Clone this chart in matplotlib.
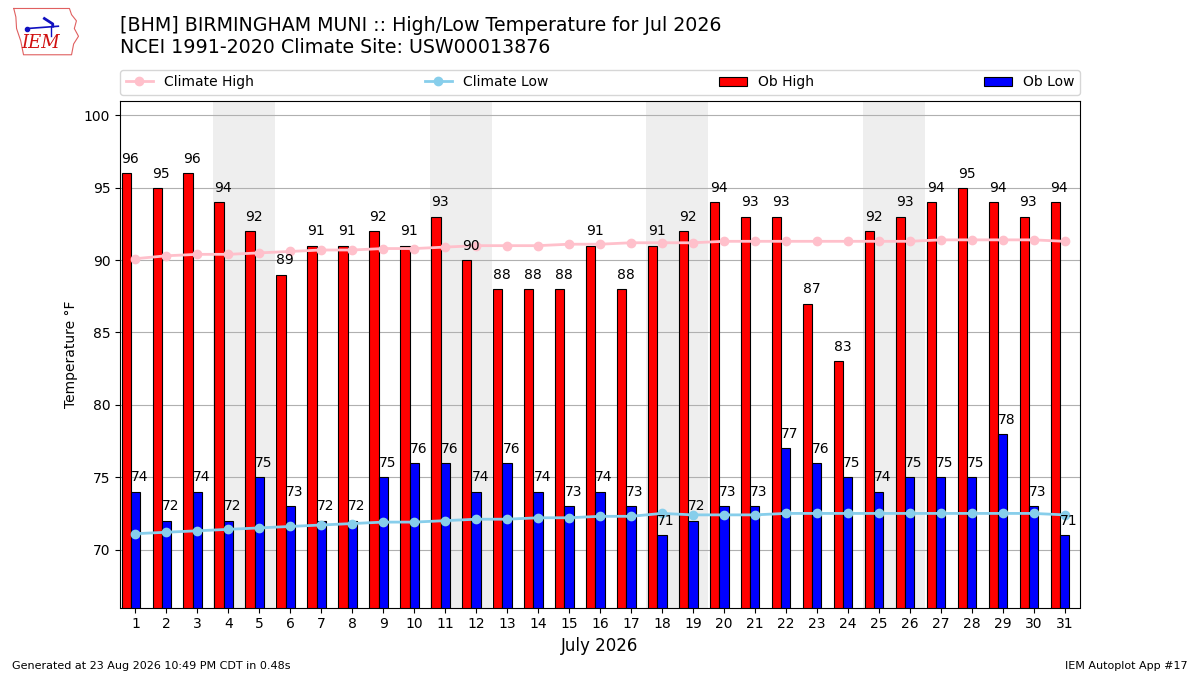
import numpy as np
import matplotlib
matplotlib.use("Agg")
import matplotlib.pyplot as plt

# Observed daily values, July 2026 (BHM)
days = np.arange(1, 32)
ob_high = [96, 95, 96, 94, 92, 89, 91, 91, 92, 91, 93, 90, 88, 88, 88, 91,
           88, 91, 92, 94, 93, 93, 87, 83, 92, 93, 94, 95, 94, 93, 94]
ob_low = [74, 72, 74, 72, 75, 73, 72, 72, 75, 76, 76, 74, 76, 74, 73, 74,
          73, 71, 72, 73, 73, 77, 76, 75, 74, 75, 75, 75, 78, 73, 71]

# NCEI 1991-2020 daily normals
clim_high = [90.1, 90.3, 90.4, 90.4, 90.5, 90.6, 90.7, 90.7, 90.8, 90.8,
             90.9, 91.0, 91.0, 91.0, 91.1, 91.1, 91.2, 91.2, 91.2, 91.3,
             91.3, 91.3, 91.3, 91.3, 91.3, 91.3, 91.4, 91.4, 91.4, 91.4, 91.3]
clim_low = [71.1, 71.2, 71.3, 71.4, 71.5, 71.6, 71.7, 71.8, 71.9, 71.9,
            72.0, 72.1, 72.1, 72.2, 72.2, 72.3, 72.3, 72.5, 72.4, 72.4,
            72.4, 72.5, 72.5, 72.5, 72.5, 72.5, 72.5, 72.5, 72.5, 72.5, 72.4]

weekends = [4, 11, 18, 25]  # Saturdays

fig = plt.figure(figsize=(12, 6.75), dpi=100)
ax = fig.add_axes([0.1, 0.1, 0.8, 0.7505])

for sat in weekends:
    ax.axvspan(sat - 0.5, sat + 1.5, color="#EEEEEE", zorder=0, lw=0)

ax.grid(axis="y", color="#b0b0b0", lw=0.8, zorder=1)
ax.set_axisbelow(True)

ax.plot(days, clim_high, "-o", color="pink", lw=2, ms=6,
        label="Climate High", zorder=3)
ax.plot(days, clim_low, "-o", color="skyblue", lw=2, ms=6,
        label="Climate Low", zorder=3)

ax.bar(days - 0.3, ob_high, width=0.3, color="r", edgecolor="k", lw=0.8,
       label="Ob High", zorder=2)
ax.bar(days, ob_low, width=0.3, color="b", edgecolor="k", lw=0.8,
       label="Ob Low", zorder=2)

for d, h, l in zip(days, ob_high, ob_low):
    ax.text(d - 0.45, h + 0.5, f"{h}", ha="left", va="bottom",
            fontsize=10, zorder=4)
    ax.text(d - 0.15, l + 0.5, f"{l}", ha="left", va="bottom",
            fontsize=10, zorder=4)

ax.set_xlim(0.5, 31.5)
ax.set_ylim(66, 101)
ax.set_xticks(days)
ax.set_yticks(range(70, 101, 5))
ax.tick_params(labelsize=10)
ax.set_xlabel("July 2026", fontsize=12)
ax.set_ylabel("Temperature \u00b0F", fontsize=10)

ax.legend(loc="lower left", bbox_to_anchor=(0, 1.012, 1, 0.051),
          mode="expand", ncol=4, borderaxespad=0, fontsize=10)

fig.text(0.1, 0.954, "[BHM] BIRMINGHAM MUNI :: High/Low Temperature for Jul 2026",
         fontsize=13.7, va="baseline")
fig.text(0.1, 0.921, "NCEI 1991-2020 Climate Site: USW00013876",
         fontsize=13.7, va="baseline")
fig.text(0.01, 0.009, "Generated at 23 Aug 2026 10:49 PM CDT in 0.48s", fontsize=8)
fig.text(0.99, 0.009, "IEM Autoplot App #17", fontsize=8, ha="right")

# rough IEM logo
lax = fig.add_axes([0.008, 0.912, 0.058, 0.08])
lax.set_xlim(0, 10)
lax.set_ylim(0, 7)
lax.axis("off")
outline_x = [0.6, 8.6, 8.9, 9.6, 9.3, 9.9, 9.2, 8.9, 2.0, 1.6, 1.0, 0.9, 0.6]
outline_y = [6.6, 6.6, 5.8, 5.0, 4.0, 3.0, 2.0, 0.6, 0.6, 2.4, 4.0, 5.5, 6.6]
lax.plot(outline_x, outline_y, color="#e06060", lw=0.8)
lax.text(4.4, 0.9, "IEM", color="#d01010", fontsize=13, style="italic",
         family="DejaVu Serif", ha="center", va="bottom")
lax.plot([2.5, 7.0], [4.0, 4.3], color="#1010c0", lw=1.2)
lax.plot([2.5], [4.0], "o", color="#1010c0", ms=3)
lax.plot([5.0, 6.2, 6.2], [5.3, 4.6, 4.3], color="#1010c0", lw=2)
lax.plot([6.0, 6.0], [4.3, 3.0], color="#1010c0", lw=1)

fig.savefig("out.png", dpi=100)
